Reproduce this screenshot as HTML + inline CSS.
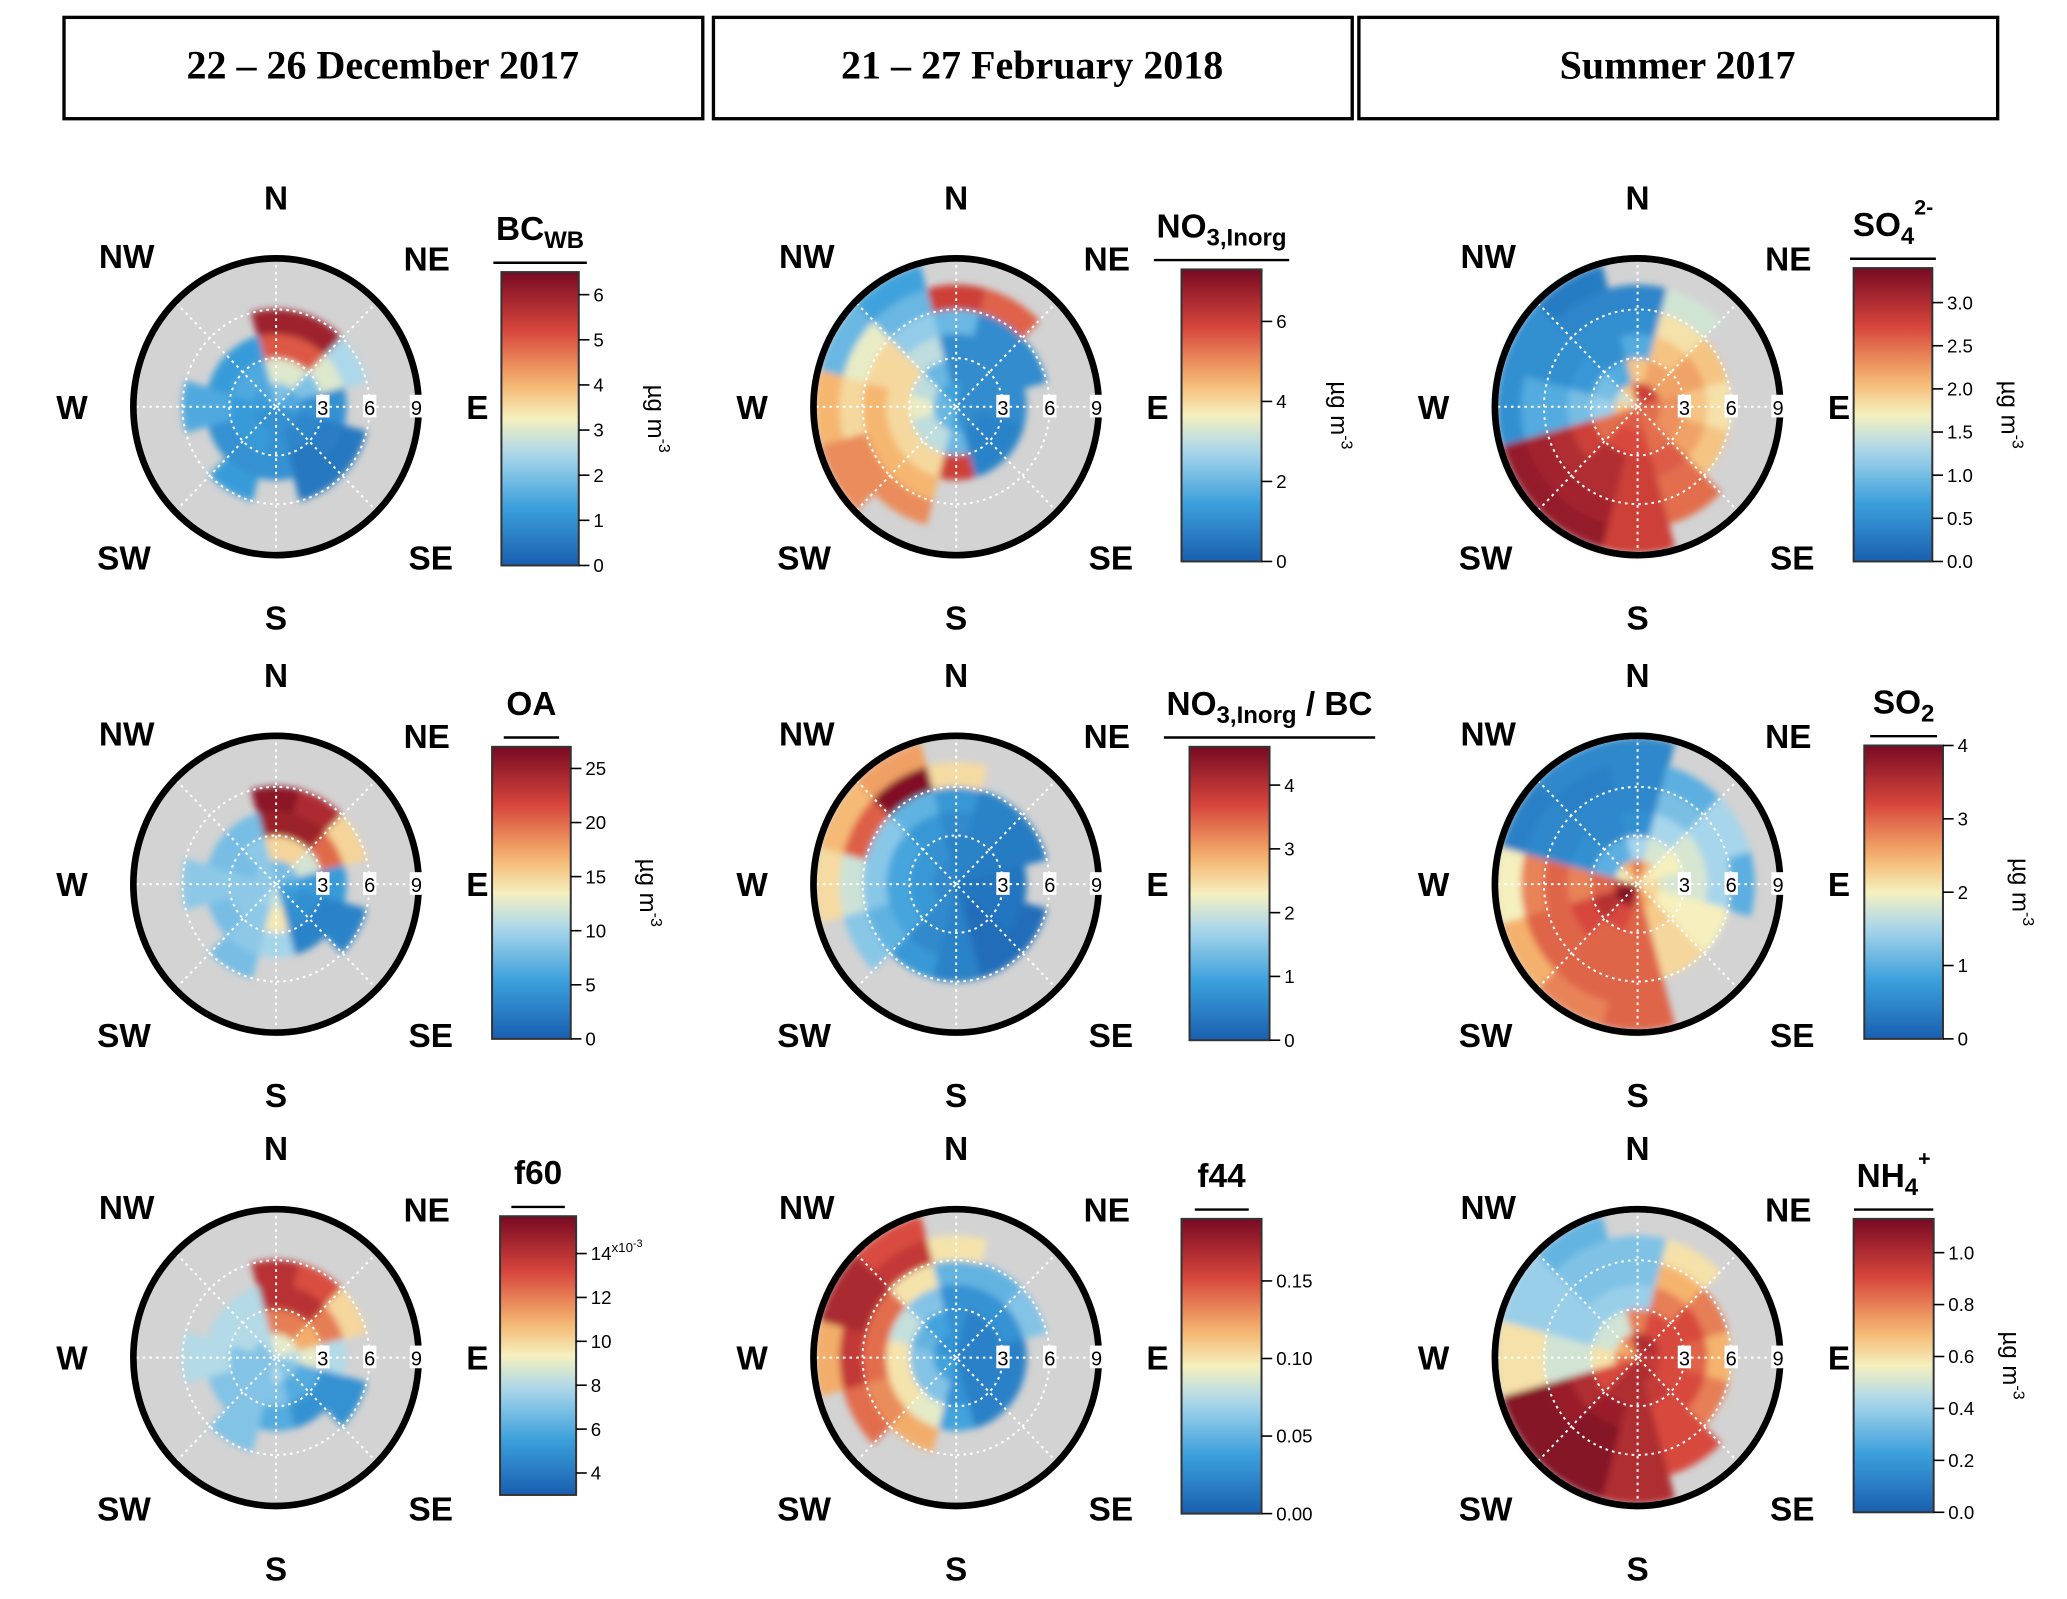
<!DOCTYPE html>
<html><head><meta charset="utf-8">
<style>
html,body{margin:0;padding:0;background:#fff;}
svg{display:block;}
.sans{font-family:"Liberation Sans",Arial,sans-serif;}
.serif{font-family:"Liberation Serif","Times New Roman",serif;}
</style></head>
<body>
<svg id="fig" class="sans" width="2067" height="1599" viewBox="0 0 1550 1199" xmlns="http://www.w3.org/2000/svg">
<defs><filter id="soft" x="-10%" y="-10%" width="120%" height="120%"><feGaussianBlur stdDeviation="2.5"/></filter></defs>
<g>
<rect x="48" y="13" width="479" height="76" fill="#fff" stroke="#000" stroke-width="2.5"/>
<text class="serif" x="287" y="59" text-anchor="middle" font-weight="bold" font-size="30">22 – 26 December 2017</text></g>
<g>
<rect x="535" y="13" width="479" height="76" fill="#fff" stroke="#000" stroke-width="2.5"/>
<text class="serif" x="774" y="59" text-anchor="middle" font-weight="bold" font-size="30">21 – 27 February 2018</text></g>
<g>
<rect x="1019" y="13" width="479" height="76" fill="#fff" stroke="#000" stroke-width="2.5"/>
<text class="serif" x="1258" y="59" text-anchor="middle" font-weight="bold" font-size="30">Summer 2017</text></g>
</svg>
<script>
// sector centre angles (deg, clockwise from N) and radial bin edges (wind speed units)
const sectorAngles=[0,30,60,90,120,150,180,210,240,270,300,330];
const speedBins=[0,1.5,3,4.5,6,7.5,9];
// values per sector, per speed bin (null = no data)
const bcWB=[[2,3,5,6,null],[2,3,5,6,null],[1.5,2,3,2.5,null],[1.5,1,1,null],[1,0.8,0.6,0.5,null],[1,0.8,0.5,0.5,null],[1,1,1,null],[1,1.2,1,1.2,null],[1,1.2,1,null],[1.2,1.2,1.5,1.5,null],[1.2,1.5,1.2,null],[1.5,1.5,1.2,null]];
const no3Inorg=[[1.5,1,1,2,6,null],[1,1,1,1,5.5,null],[1,1,1,1,null],[1,1,1,null],[1,0.8,0.8,null],[1,0.8,0.8,null],[1.5,2,6,null],[2,3,4,4.5,5,null],[2,3,4,4.5,5,5],[2,3.5,4,4.5,4,4.5],[2,3,4,4,3.5,2],[1.5,2,3,2.5,2,1.5]];
const so4=[[2.8,2,0.8,0.5,0.4,null],[2.8,2.2,2,1.8,1.5,null],[2.8,2.2,2.2,2,null],[2.5,2.3,2,1.8,null],[2.5,2.3,2.2,2,null],[2.5,2.5,2.6,2.5,2.5,null],[2.6,2.7,2.8,2.8,2.8,2.8],[2.6,2.7,3,3,3.1,3.2],[2.5,2.5,2.8,3,3.1,3.2],[2,1.2,1,0.8,0.8,0.5],[1.5,1,0.6,0.5,0.5,0.5],[2,0.8,0.5,0.5,0.4,0.3]];
const oa=[[8,15,25,26,null],[8,15,25,24,null],[8,12,20,15,null],[6,5,5,null],[5,4,3,3,null],[5,4,3,null],[12,14,10,null],[10,9,9,8,null],[9,9,8,null],[9,9,9,9,null],[9,8,8,null],[9,9,8,null]];
const no3bc=[[0.5,0.5,0.6,0.8,2.5,null],[0.5,0.5,0.5,0.5,null],[0.4,0.4,0.4,0.4,null],[0.3,0.3,0.3,null],[0.3,0.3,0.3,0.2,null],[0.3,0.2,0.2,0.2,null],[0.5,0.5,0.5,0.5,null],[0.6,0.6,0.6,0.8,null],[0.6,0.8,1,1.2,1.5,null],[0.6,0.8,1,1.5,2,2.5],[0.6,0.8,1,1.5,3.5,2.8],[0.6,0.7,0.8,1.2,4.5,3]];
const so2=[[3,1.5,0.6,0.5,0.5,0.5],[2.5,1.8,1.5,1.2,1,null],[2,2,1.8,1.5,1.5,null],[2.2,1.8,1.8,1.5,1,null],[2.2,2,2,2,null],[2.5,2.3,2.2,2.2,null],[3,3,3,3,3,3],[3.8,3.2,3,3,3,2.8],[4,3.5,3.2,3,3,2.5],[3.5,3,2.8,3,2.8,2],[2,1,0.6,0.5,0.5,0.4],[2.5,1,0.5,0.5,0.4,0.5]];
const f60=[[9,12,14,14,null],[9,12,14,13,null],[9,11,12,10,null],[8,9,8,null],[7,6,5,5,null],[7,6,5,null],[8,7,6,null],[7,7,7,7,null],[7,7,7,null],[7,7,8,8,null],[7,8,8,null],[8,8,8,null]];
const f44=[[0.03,0.03,0.03,0.05,0.1,null],[0.02,0.02,0.03,0.05,null],[0.02,0.02,0.03,0.06,null],[0.02,0.02,0.02,null],[0.02,0.02,0.02,null],[0.02,0.02,0.02,null],[0.03,0.03,0.04,null],[0.04,0.06,0.09,0.12,null],[0.04,0.06,0.1,0.13,0.14,null],[0.04,0.06,0.1,0.14,0.16,0.12],[0.03,0.05,0.08,0.14,0.17,0.17],[0.03,0.04,0.06,0.1,0.16,0.15]];
const nh4=[[1,0.8,0.4,0.35,0.35,null],[1,0.9,0.8,0.7,0.6,null],[1,0.9,0.9,0.8,null],[0.95,0.9,0.85,0.7,null],[0.95,0.9,0.9,0.8,null],[1,0.95,0.9,0.9,0.9,null],[1,1,1,1,1,1],[1,1,1.05,1.1,1.1,1.1],[0.9,0.9,1,1.05,1.1,1.1],[0.8,0.6,0.5,0.5,0.6,0.6],[0.7,0.5,0.4,0.4,0.4,0.4],[0.8,0.5,0.4,0.35,0.35,0.3]];
// colour-bar tick labels
const bcTicks=[0,1,2,3,4,5,6], no3Ticks=[0,2,4,6], so4Ticks=["0.0","0.5","1.0","1.5","2.0","2.5","3.0"];
const oaTicks=[0,5,10,15,20,25], no3bcTicks=[0,1,2,3,4], so2Ticks=[0,1,2,3,4];
const f60Ticks=[4,6,8,10,12,14], f44Ticks=["0.00","0.05","0.10","0.15"], nh4Ticks=["0.0","0.2","0.4","0.6","0.8","1.0"];

const NS="http://www.w3.org/2000/svg";
const svg=document.getElementById('fig');
const stops=[[0,[25,95,175]],[0.2,[60,160,220]],[0.38,[170,215,235]],[0.5,[245,240,190]],[0.62,[245,180,110]],[0.8,[215,70,60]],[1,[120,10,35]]];
function cmap(t){t=Math.max(0,Math.min(1,t));for(let i=1;i<stops.length;i++){if(t<=stops[i][0]){const a=stops[i-1],b=stops[i],u=(t-a[0])/(b[0]-a[0]);return 'rgb('+a[1].map((c,k)=>Math.round(c+(b[1][k]-c)*u)).join(',')+')';}}return 'rgb(120,10,35)';}
function el(tag,attrs,parent){const e=document.createElementNS(NS,tag);for(const k in attrs)e.setAttribute(k,attrs[k]);(parent||svg).appendChild(e);return e;}
const PX=11.7, SY=1.04;
function pt(cx,cy,r,a){const t=a*Math.PI/180;return [cx+r*Math.sin(t),cy-r*Math.cos(t)*SY];}
function wedge(cx,cy,r0,r1,a0,a1){const p1=pt(cx,cy,r1,a0),p2=pt(cx,cy,r1,a1),p3=pt(cx,cy,r0,a1),p4=pt(cx,cy,r0,a0);
return `M${p1}A${r1},${r1*SY} 0 0 1 ${p2}L${p3}`+(r0>0?`A${r0},${r0*SY} 0 0 0 ${p4}`:'')+'Z';}

const panels=[
 {cx:207,cy:305,data:bcWB,vmin:0,vmax:6.5,ticks:bcTicks,bx:376,by:204,bw:58,bh:220,title:'BC',sub:'WB',units:true,name:'bc-wb'},
 {cx:717,cy:305,data:no3Inorg,vmin:0,vmax:7.3,ticks:no3Ticks,bx:886,by:202,bw:60,bh:219,title:'NO',sub:'3,Inorg',units:true,name:'no3-inorg'},
 {cx:1228,cy:305,data:so4,vmin:0,vmax:3.4,ticks:so4Ticks,bx:1390,by:201,bw:59,bh:220,title:'SO',sub:'4',sup:'2-',units:true,name:'so4'},
 {cx:207,cy:663,data:oa,vmin:0,vmax:27,ticks:oaTicks,bx:369,by:560,bw:59,bh:219,title:'OA',units:true,name:'oa'},
 {cx:717,cy:663,data:no3bc,vmin:0,vmax:4.6,ticks:no3bcTicks,bx:892,by:560,bw:60,bh:220,title:'NO',sub:'3,Inorg',after:' / BC',units:false,name:'no3-bc-ratio'},
 {cx:1228,cy:663,data:so2,vmin:0,vmax:4,ticks:so2Ticks,bx:1398,by:559,bw:59,bh:220,title:'SO',sub:'2',units:true,name:'so2'},
 {cx:207,cy:1018,data:f60,vmin:3,vmax:15.7,ticks:f60Ticks,bx:375,by:912,bw:57,bh:209,title:'f60',units:false,name:'f60',exp:true},
 {cx:717,cy:1018,data:f44,vmin:0,vmax:0.19,ticks:f44Ticks,bx:886,by:914,bw:60,bh:221,title:'f44',units:false,name:'f44'},
 {cx:1228,cy:1018,data:nh4,vmin:0,vmax:1.13,ticks:nh4Ticks,bx:1390,by:914,bw:60,bh:220,title:'NH',sub:'4',sup:'+',units:true,name:'nh4'}
];
let gid=0;
panels.forEach(p=>{
 const g=el('g',{});
 
 
 const R=107;
 const bg=el('ellipse',{cx:p.cx,cy:p.cy,rx:R,ry:R*SY,fill:'#d3d3d3'},g);
 
 
 const cg=el('g',{filter:'url(#soft)'},g);
 
 
 p.data.forEach((row,si)=>{row.forEach((v,bi)=>{if(v===null)return;
   const a=sectorAngles[si];
   const col=cmap((v-p.vmin)/(p.vmax-p.vmin));
   const path=el('path',{d:wedge(p.cx,p.cy,speedBins[bi]*PX,speedBins[bi+1]*PX,a-15.3,a+15.3),fill:col,stroke:col,'stroke-width':0.6},cg);
   
   
 });});
 [3,6,9].forEach(r=>{const c=el('ellipse',{cx:p.cx,cy:p.cy,rx:r*PX,ry:r*PX*SY,fill:'none',stroke:'#fff','stroke-width':1.5,'stroke-dasharray':'2 3'},g);
   
   });
 [0,45,90,135].forEach(a=>{const q1=pt(p.cx,p.cy,R,a),q2=pt(p.cx,p.cy,R,a+180);
   const l=el('line',{x1:q1[0],y1:q1[1],x2:q2[0],y2:q2[1],stroke:'#fff','stroke-width':1.5,'stroke-dasharray':'2 3'},g);
   
   });
 const oc=el('ellipse',{cx:p.cx,cy:p.cy,rx:R,ry:R*SY,fill:'none',stroke:'#000','stroke-width':5},g);
 
 
 [3,6,9].forEach(r=>{const x=p.cx+r*PX;
   el('rect',{x:x-5,y:p.cy-9,width:10,height:17,fill:'#fff'},g);
   const t=el('text',{x:x,y:p.cy+6,'text-anchor':'middle','font-size':15},g);t.textContent=r;
   
   });
 const comp=[['N',0,-148],['S',0,167],['W',-153,9],['E',151,9],['NW',-112,-104],['NE',113,-102],['SW',-114,122],['SE',116,122]];
 comp.forEach(c=>{const t=el('text',{x:p.cx+c[1],y:p.cy+c[2],'text-anchor':'middle','font-size':25,'font-weight':'bold'},g);t.textContent=c[0];
   
   });
 const id='cb'+(gid++);
 const lg=el('linearGradient',{id:id,x1:0,y1:1,x2:0,y2:0},g);
 for(let i=0;i<=20;i++)el('stop',{offset:i/20,'stop-color':cmap(i/20)},lg);
 const cb=el('rect',{x:p.bx,y:p.by,width:p.bw,height:p.bh,fill:'url(#'+id+')',stroke:'#333','stroke-width':1.5},g);
 
 
 p.ticks.forEach(tv=>{const v=parseFloat(tv);const y=p.by+p.bh-(v-p.vmin)/(p.vmax-p.vmin)*p.bh;
   el('line',{x1:p.bx+p.bw,y1:y,x2:p.bx+p.bw+8,y2:y,stroke:'#000','stroke-width':1.2},g);
   const t=el('text',{x:p.bx+p.bw+11,y:y+5,'font-size':14},g);t.textContent=tv;
   
   
   if(p.exp&&v===14){const s=el('tspan',{'font-size':10,dy:-6},t);s.textContent='x10';const s2=el('tspan',{'font-size':8,dy:-4},t);s2.textContent='-3';}
 });
 if(p.units){const tx=p.bx+p.bw+52,ty=p.by+p.bh/2;
   const t=el('text',{x:tx,y:ty,'font-size':18,'text-anchor':'middle',transform:`rotate(90 ${tx} ${ty})`},g);
   t.textContent='µg m';const s=el('tspan',{'font-size':12,dy:-8},t);s.textContent='-3';
   
   }
 const tcx=p.bx+p.bw/2+(p.after?30:0);
 const tt=el('text',{x:tcx,y:p.by-24,'font-size':25,'font-weight':'bold','text-anchor':'middle'},g);
 tt.textContent=p.title;
 if(p.sub){const s=el('tspan',{'font-size':18,dy:6},tt);s.textContent=p.sub;}
 if(p.sup){const s=el('tspan',{'font-size':16,dy:-22},tt);s.textContent=p.sup;}
 if(p.after){const s=el('tspan',{dy:-6},tt);s.textContent=p.after;}
 
 
 const bb=tt.getBBox();
 const ul=el('line',{x1:bb.x-2,y1:p.by-7,x2:bb.x+bb.width+2,y2:p.by-7,stroke:'#000','stroke-width':1.8},g);
 
 
});
</script>
</body></html>
